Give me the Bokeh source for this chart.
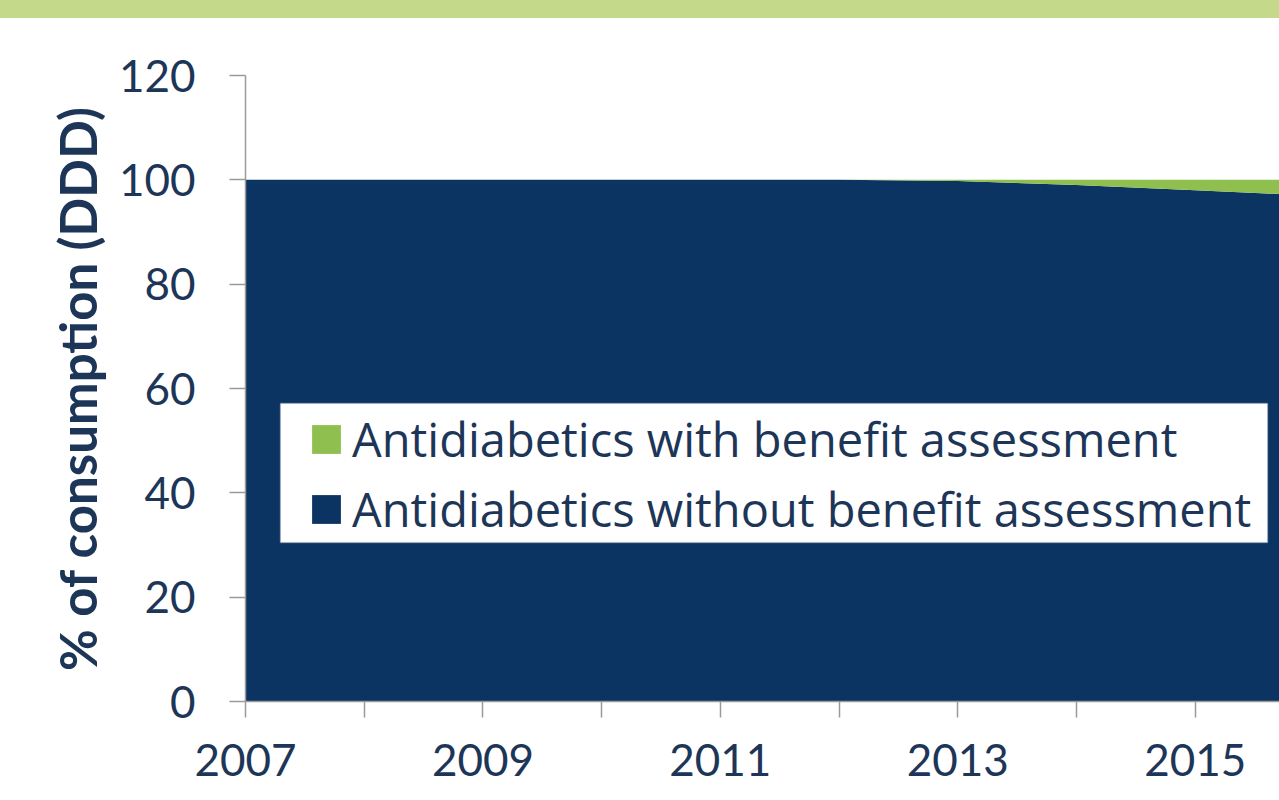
from bokeh.plotting import figure
from bokeh.models import (Range1d, FixedTicker, Legend, LegendItem, ColumnDataSource,
                          BoxAnnotation, Div)
from bokeh.layouts import column
from bokeh.embed import file_html
from bokeh.resources import INLINE

# ---- data ----
years = [2007, 2008, 2009, 2010, 2011, 2012, 2013, 2014, 2015, 2016]
without_assessment = [100, 100, 100, 100, 100, 100, 99.8, 99.0, 98.0, 97.0]
with_assessment = [0, 0, 0, 0, 0, 0, 0.2, 1.0, 2.0, 3.0]
y_ticks = [0, 20, 40, 60, 80, 100, 120]
x_ticks = [2007, 2008, 2009, 2010, 2011, 2012, 2013, 2014, 2015]
x_labels = {2007: "2007", 2008: "", 2009: "2009", 2010: "", 2011: "2011",
            2012: "", 2013: "2013", 2014: "", 2015: "2015"}
series_names = ["Antidiabetics with benefit assessment",
                "Antidiabetics without benefit assessment"]

NAVY = "#0c3462"
GREEN = "#8fbf4f"
TEXT = "#1d3658"
AXIS = "#9a9a9a"
FONT = "Lato"

source = ColumnDataSource(dict(year=years, without=without_assessment, with_=with_assessment))

p = figure(width=1279, height=782, output_backend="svg", toolbar_location=None,
           x_range=Range1d(2007, 2015.71), y_range=Range1d(0, 120),
           min_border_left=245, min_border_right=0, min_border_top=57, min_border_bottom=99)
p.outline_line_color = None
p.background_fill_color = "white"
p.border_fill_color = "white"

rs = p.varea_stack(["without", "with_"], x="year", source=source, color=[NAVY, GREEN])

# axes
for ax in (p.xaxis[0], p.yaxis[0]):
    ax.axis_line_color = AXIS
    ax.axis_line_width = 1.5
    ax.major_tick_line_color = AXIS
    ax.major_tick_line_width = 1.5
    ax.major_tick_out = 16
    ax.major_tick_in = 0
    ax.minor_tick_line_color = None
    ax.major_label_text_font = FONT
    ax.major_label_text_font_size = "44px"
    ax.major_label_text_color = TEXT

p.xaxis.ticker = FixedTicker(ticks=x_ticks)
p.xaxis.major_label_overrides = {k: v for k, v in x_labels.items()}
p.xaxis.major_label_standoff = 26
p.yaxis.ticker = FixedTicker(ticks=y_ticks)
p.yaxis.major_label_standoff = 34
p.yaxis.axis_label = "% of consumption (DDD)"
p.yaxis.axis_label_text_font = FONT
p.yaxis.axis_label_text_font_style = "bold"
p.yaxis.axis_label_text_font_size = "51px"
p.yaxis.axis_label_text_color = TEXT
p.yaxis.axis_label_standoff = 8

# grid: only the top line at 120
p.xgrid.visible = False
p.ygrid.ticker = FixedTicker(ticks=[120])
p.ygrid.grid_line_color = AXIS
p.ygrid.grid_line_width = 1.5

# legend background box
box = BoxAnnotation(left=35, right=1022, top=298, bottom=159,
                    left_units="screen", right_units="screen",
                    top_units="screen", bottom_units="screen",
                    fill_color="white", fill_alpha=1.0,
                    line_color="#d8dde6", line_width=1.5, level="overlay")
p.add_layout(box)

legend = Legend(items=[LegendItem(label=series_names[0], renderers=[rs[1]]),
                       LegendItem(label=series_names[1], renderers=[rs[0]])],
                location=(63, 160), orientation="vertical",
                background_fill_alpha=0, border_line_alpha=0,
                padding=0, margin=0, spacing=6,
                glyph_width=36, glyph_height=36, label_height=46,
                label_standoff=8, label_text_font="Open Sans",
                label_text_font_size="47px", label_text_color=TEXT)
p.add_layout(legend)

band = Div(text="", width=1279, height=18, margin=0,
           styles={"background-color": "#c4d98a"})

layout = column(band, p, spacing=0, margin=0)
open("out.html", "w").write(file_html(layout, INLINE))
